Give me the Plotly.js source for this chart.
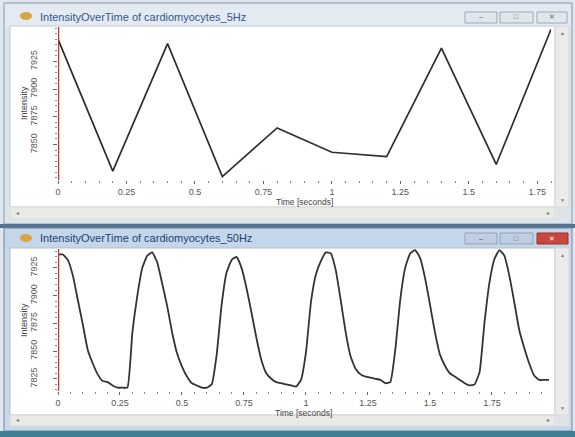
<!DOCTYPE html>
<html>
<head>
<meta charset="utf-8">
<script src="https://cdn.plot.ly/plotly-3.0.1.min.js"></script>
<style>html,body{margin:0;padding:0;background:#dfe6ee;}#chart{width:575px;height:437px;}</style>
</head>
<body>
<div id="chart"></div>
<script>
// ---- data ----
const title5Hz = "IntensityOverTime of cardiomyocytes_5Hz";
const title50Hz = "IntensityOverTime of cardiomyocytes_50Hz";
const xAxisTitle = "Time [seconds]";
const yAxisTitle = "Intensity";

const time5Hz = [0, 0.2, 0.4, 0.6, 0.8, 1.0, 1.2, 1.4, 1.6, 1.8];
const intensity5Hz = [7945, 7826, 7941, 7821, 7865, 7843, 7839, 7937, 7832, 7954];

const time50Hz = [
  0.00,0.02,0.04,0.06,0.08,0.10,0.12,0.14,0.16,0.18,
  0.20,0.22,0.24,0.26,0.28,0.30,0.32,0.34,0.36,0.38,
  0.40,0.42,0.44,0.46,0.48,0.50,0.52,0.54,0.56,0.58,
  0.60,0.62,0.64,0.66,0.68,0.70,0.72,0.74,0.76,0.78,
  0.80,0.82,0.84,0.86,0.88,0.90,0.92,0.94,0.96,0.98,
  1.00,1.02,1.04,1.06,1.08,1.10,1.12,1.14,1.16,1.18,
  1.20,1.22,1.24,1.26,1.28,1.30,1.32,1.34,1.36,1.38,
  1.40,1.42,1.44,1.46,1.48,1.50,1.52,1.54,1.56,1.58,
  1.60,1.62,1.64,1.66,1.68,1.70,1.72,1.74,1.76,1.78,
  1.80,1.82,1.84,1.86,1.88,1.90,1.92,1.94,1.96,1.98
];
const intensity50Hz = [
  7937,7937,7932,7918,7896,7874,7851,7839,7829,7823,
  7822,7819,7817,7817,7817,7867,7900,7925,7936,7939,
  7930,7911,7891,7867,7848,7836,7827,7821,7819,7817,
  7817,7820,7847,7892,7921,7932,7935,7925,7907,7885,
  7862,7842,7830,7825,7822,7821,7820,7819,7818,7824,
  7849,7894,7919,7931,7939,7938,7923,7896,7867,7845,
  7834,7829,7827,7826,7825,7824,7821,7822,7851,7896,
  7925,7938,7941,7934,7916,7892,7867,7847,7837,7830,
  7827,7824,7821,7819,7820,7831,7876,7912,7933,7941,
  7936,7918,7894,7869,7853,7839,7828,7824,7824,7824
];

const yTicks5Hz = [7850, 7875, 7900, 7925];
const yTicks50Hz = [7825, 7850, 7875, 7900, 7925];
const xTickLabels = ["0", "0.25", "0.5", "0.75", "1", "1.25", "1.5", "1.75"];
const xTickVals = [0, 0.25, 0.5, 0.75, 1, 1.25, 1.5, 1.75];

// ---- helpers for window chrome (pixel -> paper) ----
const W = 575, H = 437;
function rect(x0, y0, x1, y1, fill, line, lw) {
  return {type:'rect', xref:'paper', yref:'paper', layer:'below',
    x0:x0/W, x1:x1/W, y0:1-y1/H, y1:1-y0/H,
    fillcolor:fill, line:{color: line || fill, width: line ? (lw||1) : 0}};
}
function ell(x0, y0, x1, y1, fill) {
  return {type:'circle', xref:'paper', yref:'paper', layer:'below',
    x0:x0/W, x1:x1/W, y0:1-y1/H, y1:1-y0/H, fillcolor:fill, line:{width:0}};
}
function txt(x, y, t, size, color, extra) {
  return Object.assign({xref:'paper', yref:'paper', x:x/W, y:1-y/H, text:t, showarrow:false,
    xanchor:'center', yanchor:'middle',
    font:{family:'Liberation Sans, Arial, sans-serif', size:size, color:color}}, extra||{});
}

const shapes = [
  // top window
  rect(4, 3, 572, 224, '#dce4ec', '#8a99aa'),
  rect(5, 4, 571, 26, '#e3eaf1'),
  rect(10, 26, 555, 207, '#ffffff', '#c2cad3'),
  rect(555, 26, 569, 207, '#ebebeb', '#d6d6d6'),
  rect(10, 207, 555, 219, '#e8ebe5', '#d8dbd6'),
  rect(555, 207, 569, 219, '#dfe3e6'),
  rect(465, 12, 497, 23, '#dfe6ee', '#9ea9b5'),
  rect(500, 12, 533, 23, '#dfe6ee', '#9ea9b5'),
  rect(537, 12, 567, 23, '#dfe6ee', '#9ea9b5'),
  ell(20, 12, 32, 20, '#d9a441'),
  // separator
  rect(0, 224, 575, 228, '#55738f'),
  // bottom window
  rect(4, 228, 572, 431, '#c8d8ea', '#6f88a3'),
  rect(5, 229, 571, 248, '#c4d6ea'),
  rect(10, 248, 555, 415, '#ffffff', '#b4c0cc'),
  rect(555, 248, 569, 415, '#ebebeb', '#d6d6d6'),
  rect(10, 415, 555, 426, '#e8ebe5', '#d8dbd6'),
  rect(555, 415, 569, 426, '#dfe3e6'),
  rect(465, 233, 497, 244, '#bfcfe1', '#8fa3b9'),
  rect(500, 233, 533, 244, '#bfcfe1', '#8fa3b9'),
  rect(537, 233, 568, 244, '#c9473e', '#9c3028'),
  ell(20, 234, 32, 242, '#d9a441'),
  rect(0, 431, 575, 437, '#3f7e95'),
  // red cursor lines at t = 0
  {type:'line', xref:'x', yref:'y domain', x0:0, x1:0, y0:0, y1:1, line:{color:'#b83a34', width:2.5}},
  {type:'line', xref:'x2', yref:'y2 domain', x0:0, x1:0, y0:0, y1:1, line:{color:'#b83a34', width:2.5}}
];

const annotations = [
  txt(38, 17, title5Hz, 11, '#34568c', {xanchor:'left'}),
  txt(38, 238, title50Hz, 11, '#1f3f73', {xanchor:'left'}),
  txt((58+551)/2, 202, xAxisTitle, 8.5, '#444'),
  txt((58+549)/2, 413, xAxisTitle, 8.5, '#444'),
  txt(24, 103, yAxisTitle, 9, '#444', {textangle:-90}),
  txt(24, 320, yAxisTitle, 9, '#444', {textangle:-90}),
  // window button glyphs
  txt(481, 17, '–', 7, '#666'), txt(516, 17, '□', 7, '#666'), txt(552, 17, '✕', 7, '#666'),
  txt(481, 238, '–', 7, '#555'), txt(516, 238, '□', 7, '#555'), txt(552, 238, '✕', 7, '#ffffff'),
  // scrollbar arrows
  txt(562, 33, '▲', 5, '#777'), txt(562, 200, '▼', 5, '#777'), txt(17, 213, '◄', 5, '#777'), txt(548, 213, '►', 5, '#777'),
  txt(562, 255, '▲', 5, '#777'), txt(562, 408, '▼', 5, '#777'), txt(17, 420, '◄', 5, '#777'), txt(548, 420, '►', 5, '#777')
];

const tickFont = {family:'Liberation Sans, Arial, sans-serif', size:9, color:'#555'};
function xAxis(domainPx, range) {
  return {domain:[domainPx[0]/W, domainPx[1]/W], range:range, showgrid:false, zeroline:false, showline:false,
    tickmode:'array', tickvals:xTickVals, ticktext:xTickLabels, ticks:'outside', ticklen:3, tickwidth:1, tickcolor:'#666',
    minor:{tickmode:'linear', tick0:0, dtick:0.05, ticks:'outside', ticklen:2, tickwidth:1, tickcolor:'#888'},
    tickfont:tickFont, fixedrange:true};
}
function yAxis(domainPx, range, tv) {
  return {domain:[1-domainPx[1]/H, 1-domainPx[0]/H], range:range, showgrid:false, zeroline:false, showline:false,
    tickmode:'array', tickvals:tv, tickangle:-90, ticks:'outside', ticklen:4, tickwidth:1, tickcolor:'#666',
    ticklabelstandoff:12,
    minor:{tickmode:'linear', tick0:7825, dtick:5, ticks:'outside', ticklen:2, tickwidth:1, tickcolor:'#888'},
    tickfont:tickFont, fixedrange:true};
}

const traces = [
  {x:time5Hz, y:intensity5Hz, xaxis:'x', yaxis:'y', type:'scatter', mode:'lines',
   line:{color:'#2e2e2e', width:1.7}, hoverinfo:'skip'},
  {x:time50Hz, y:intensity50Hz, xaxis:'x2', yaxis:'y2', type:'scatter', mode:'lines',
   line:{color:'#333333', width:1.8, shape:'spline', smoothing:0.4}, hoverinfo:'skip'}
];

const layout = {
  width:W, height:H, margin:{l:0, r:0, t:0, b:0},
  paper_bgcolor:'#dfe6ee', plot_bgcolor:'rgba(0,0,0,0)', showlegend:false,
  xaxis: Object.assign(xAxis([58, 551], [0, 1.8]), {anchor:'y'}),
  yaxis: Object.assign(yAxis([27, 180], [7818, 7956], yTicks5Hz), {anchor:'x'}),
  xaxis2: Object.assign(xAxis([58, 549], [0, 1.98]), {anchor:'y2'}),
  yaxis2: Object.assign(yAxis([249, 391], [7814, 7942], yTicks50Hz), {anchor:'x2'}),
  shapes:shapes, annotations:annotations
};

Plotly.newPlot('chart', traces, layout, {displayModeBar:false, staticPlot:true});
</script>
</body>
</html>
